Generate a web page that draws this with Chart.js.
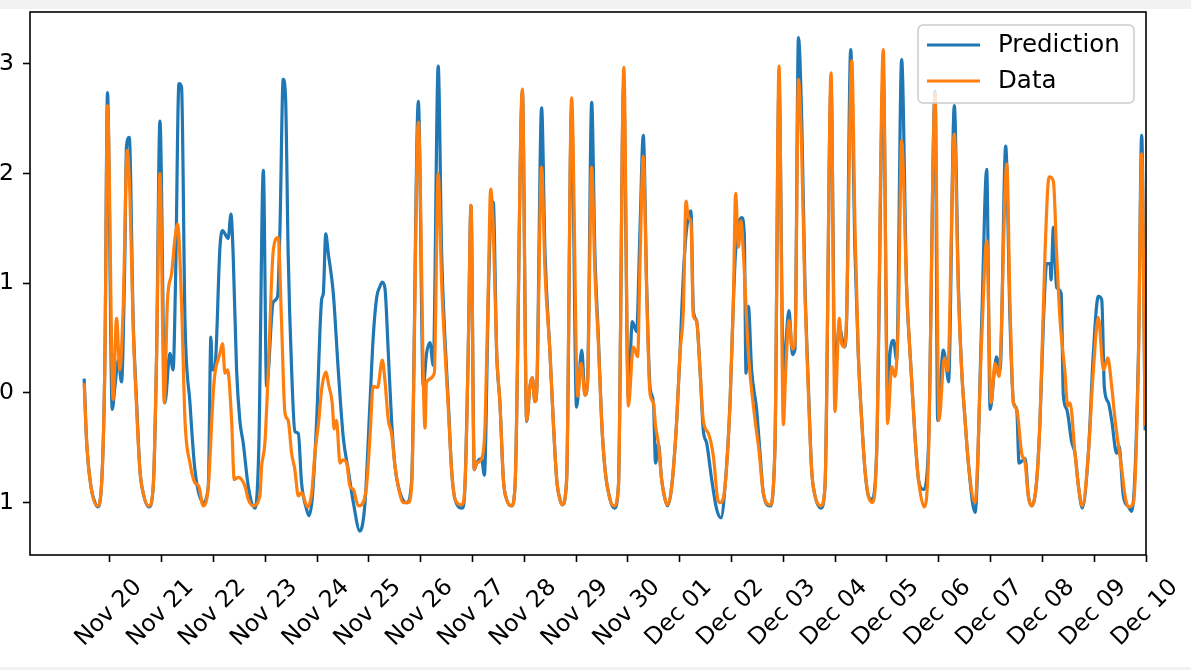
<!DOCTYPE html>
<html>
<head>
<meta charset="utf-8">
<title>Prediction vs Data</title>
<script src="https://cdn.jsdelivr.net/npm/chart.js@4.4.0/dist/chart.umd.min.js"></script>
<style>
    html, body { margin: 0; padding: 0; width: 1191px; height: 670px; overflow: hidden; background: #f2f2f2; }
    #sheet { position: absolute; left: 0; top: 9px; width: 1191px; height: 658px; background: #fff; }
    #chart { position: absolute; left: 0; top: 0; }
</style>
</head>
<body>
<div id="sheet"></div>
<canvas id="chart" width="1191" height="670"></canvas>
<script>
// hours since Nov 20 00:00
const predHours = [
    -11.9, -10.8, -8.8, -6.9, -5.7, -3.9, -2.3, -1.1, 1.1, 2.3, 3.9, 5.4, 6.9, 7.7, 9.0, 10.8, 12.4, 13.9, 15.4, 18.1,
    20.1, 21.6, 23.2, 25.5, 27.8, 29.3, 30.4, 32.0, 33.2, 34.8, 37.1, 39.4, 43.2, 45.6, 46.8, 47.4, 48.7, 51.0, 52.2, 54.8,
    56.1, 57.1, 58.7, 60.2, 61.8, 64.1, 67.2, 69.0, 71.1, 72.6, 75.7, 77.7, 78.8, 80.3, 81.4, 82.6, 84.2, 85.7, 87.3, 88.8,
    91.1, 92.2, 93.8, 95.8, 98.1, 98.9, 100.0, 101.2, 103.5, 105.8, 108.1, 110.4, 112.8, 115.8, 118.2, 120.5, 122.0, 123.6, 125.1, 126.2,
    127.4, 129.0, 130.5, 132.1, 134.4, 137.5, 139.8, 142.9, 145.2, 146.7, 148.3, 149.8, 152.1, 153.7, 155.2, 156.8, 158.3, 159.9, 163.3, 164.5,
    166.0, 167.3, 168.8, 169.9, 172.2, 173.5, 175.3, 176.4, 177.6, 179.2, 180.7, 182.3, 183.8, 186.1, 187.7, 191.1, 193.1, 194.6, 195.7, 196.9,
    197.7, 200.0, 201.6, 203.9, 205.4, 207.0, 208.5, 209.6, 211.6, 213.9, 216.2, 218.6, 220.1, 221.3, 223.2, 224.7, 226.3, 227.8, 229.4, 231.7,
    233.7, 235.6, 238.0, 240.2, 242.0, 244.0, 245.6, 247.1, 248.7, 250.2, 251.8, 252.8, 254.1, 255.6, 257.2, 258.4, 260.3, 262.6, 264.1, 265.7,
    267.2, 269.2, 270.3, 271.8, 273.4, 274.9, 276.5, 278.8, 281.1, 283.1, 285.0, 287.3, 288.8, 289.9, 292.7, 293.9, 294.7, 295.8, 297.3, 299.6,
    301.2, 302.7, 305.8, 308.1, 310.0, 312.0, 312.8, 314.6, 316.2, 317.4, 319.0, 320.5, 322.0, 323.6, 325.1, 326.7, 329.4, 331.3, 334.1, 335.9,
    337.9, 340.3, 341.3, 343.2, 345.2, 346.7, 348.3, 349.8, 351.4, 352.9, 355.2, 358.3, 360.3, 361.4, 363.0, 364.5, 366.8, 369.1, 370.7, 373.0,
    374.6, 376.9, 379.2, 382.3, 383.5, 386.1, 387.7, 388.5, 391.2, 393.1, 394.6, 396.2, 397.7, 400.8, 403.9, 406.2, 407.8, 409.8, 410.8, 412.4,
    415.0, 417.0, 418.6, 420.1, 421.2, 424.0, 425.5, 427.1, 429.4, 430.9, 432.5, 434.0, 435.6, 436.0, 437.1, 438.6, 440.7, 441.7, 443.3, 445.6,
    447.1, 448.7, 450.5, 453.3, 455.6, 457.9, 459.5, 460.7, 462.6, 464.1, 466.4, 467.5, 469.5, 471.9, 473.4, 476.5, 478.0, 479.6
];
const predValues = [
    0.13, -0.43, -0.85, -1.0, -1.04, -0.85, 0.3, 2.74, -0.15, 0.05, 0.3, 0.1, 1.2, 2.25, 2.33, 0.66, -0.09, -0.7, -0.91, -1.04,
    -0.85, 0.3, 2.48, -0.09, 0.36, 0.21, 1.0, 2.82, 2.79, 0.66, -0.09, -0.7, -1.0, -0.85, 0.51, 0.21, 0.24, 1.33, 1.48, 1.41,
    1.63, 1.27, 0.21, -0.25, -0.46, -0.85, -1.05, -0.5, 2.03, 0.06, 0.83, 0.88, 1.5, 2.86, 2.69, 1.27, 0.21, -0.35, -0.37, -0.82,
    -1.06, -1.12, -0.95, -0.25, 0.85, 0.91, 1.45, 1.27, 0.91, 0.21, -0.4, -0.7, -1.0, -1.26, -1.0, -0.09, 0.51, 0.87, 0.97, 1.01,
    0.96, 0.36, -0.25, -0.67, -0.91, -1.0, -0.8, 2.66, 0.06, 0.36, 0.46, 0.25, 2.98, 1.27, 0.51, -0.09, -0.7, -0.97, -1.05, -0.85,
    0.36, 1.71, -0.7, -0.64, -0.6, -0.75, 0.85, 1.6, 1.74, 0.36, -0.09, -0.79, -0.97, -1.03, -0.85, 2.75, -0.26, 0.06, 0.14, -0.08,
    0.0, 2.6, 1.27, 0.36, -0.25, -0.79, -0.97, -1.02, -0.79, 2.6, -0.13, 0.39, -0.02, 0.1, 2.65, 1.27, 0.51, -0.25, -0.7, -0.97,
    -1.05, -0.85, 2.8, -0.05, 0.65, 0.56, 1.5, 2.35, 0.96, 0.06, -0.09, -0.64, -0.46, -0.79, -0.97, -1.03, -0.85, -0.25, 0.36, 1.09,
    1.5, 1.66, 0.75, 0.66, 0.21, -0.34, -0.46, -0.79, -1.06, -1.14, -0.85, -0.09, 0.8, 1.3, 1.6, 1.45, 0.18, 0.79, 0.21, -0.15,
    -0.55, -0.91, -1.03, -0.5, 2.8, 0.2, 0.36, 0.75, 0.35, 0.4, 3.24, 2.5, 1.0, 0.06, -0.7, -0.94, -1.05, -0.85, 2.8, 0.2,
    0.6, 0.42, 0.66, 3.13, 1.27, 0.36, -0.25, -0.7, -0.94, -0.97, -0.55, 2.9, 0.0, 0.36, 0.48, 0.3, 3.04, 0.96, 0.36, -0.4,
    -0.79, -0.88, -0.5, 2.75, -0.25, 0.39, 0.21, 0.1, 2.62, 0.96, 0.21, -0.25, -0.64, -1.09, 0.66, 2.04, -0.15, 0.21, 0.33, 0.21,
    2.25, 0.66, -0.09, -0.15, -0.64, -0.6, -0.94, -1.03, -0.79, -0.25, 0.66, 1.18, 1.18, 1.03, 1.51, 0.96, 0.91, -0.02, -0.15, -0.45,
    -0.55, -0.85, -1.05, -0.55, 0.36, 0.88, 0.85, 0.05, -0.09, -0.25, -0.55, -0.48, -0.94, -1.04, -1.08, 0.36, 2.35, -0.34
];

const dataHours = [
    -11.9, -10.8, -8.8, -5.7, -3.9, -2.3, -1.1, 1.5, 3.1, 4.6, 6.2, 8.0, 9.3, 10.8, 12.4, 13.9, 15.4, 18.1, 20.1, 21.6,
    23.2, 25.2, 26.7, 28.6, 30.1, 31.4, 33.2, 34.8, 37.1, 39.4, 41.2, 43.2, 45.6, 47.9, 48.7, 51.0, 52.2, 53.3, 54.5, 56.4,
    57.6, 59.5, 62.6, 64.1, 66.4, 69.5, 70.3, 71.8, 73.4, 75.7, 78.0, 79.5, 81.1, 82.6, 84.2, 85.7, 87.3, 88.8, 91.6, 93.5,
    95.0, 96.8, 98.1, 100.0, 101.5, 103.0, 103.9, 105.0, 106.6, 108.1, 109.7, 111.2, 112.8, 115.1, 116.6, 118.9, 120.5, 122.0, 124.0, 126.2,
    127.4, 129.0, 130.5, 132.1, 133.6, 135.9, 138.2, 139.8, 142.9, 146.0, 146.7, 150.3, 152.1, 153.7, 155.2, 156.8, 158.3, 159.9, 163.0, 164.5,
    166.0, 167.3, 168.8, 169.9, 172.2, 173.8, 175.3, 176.4, 177.6, 179.2, 180.7, 182.3, 183.8, 186.1, 187.7, 191.1, 193.1, 194.6, 195.7, 196.9,
    197.7, 200.0, 201.6, 203.9, 205.4, 207.0, 208.5, 209.6, 211.6, 213.9, 216.7, 218.3, 220.1, 221.3, 223.2, 224.7, 226.3, 227.8, 229.4, 231.7,
    233.7, 235.6, 238.1, 240.2, 242.5, 244.5, 245.6, 247.1, 248.7, 250.2, 251.8, 252.8, 254.1, 255.6, 257.2, 258.4, 260.3, 262.6, 264.1, 265.7,
    266.9, 268.0, 269.2, 270.3, 271.8, 273.4, 274.9, 277.3, 279.6, 281.6, 282.7, 285.0, 287.3, 288.8, 289.9, 291.2, 292.4, 293.5, 295.8, 298.9,
    300.7, 302.7, 305.8, 308.1, 310.0, 312.0, 313.1, 314.6, 316.2, 317.4, 319.0, 320.5, 322.0, 323.6, 325.1, 326.7, 329.4, 331.3, 334.1, 335.9,
    337.9, 339.0, 340.3, 341.3, 343.7, 345.2, 346.7, 348.3, 349.8, 351.4, 353.2, 355.2, 358.3, 360.3, 362.2, 363.7, 365.3, 366.8, 369.1, 370.7,
    373.0, 374.6, 377.3, 379.2, 382.3, 384.1, 386.6, 388.1, 391.2, 393.1, 394.6, 396.2, 397.7, 400.8, 403.9, 406.2, 408.2, 410.1, 411.9, 415.5,
    417.0, 418.6, 420.1, 422.4, 424.0, 425.5, 427.1, 429.4, 430.9, 433.2, 435.1, 437.1, 438.6, 440.2, 442.5, 443.7, 444.8, 447.1, 448.7, 450.5,
    453.3, 455.6, 457.9, 460.3, 462.3, 464.1, 465.7, 468.8, 470.3, 471.9, 474.2, 476.5, 478.0, 479.6
];
const dataValues = [
    0.09, -0.43, -0.85, -1.03, -0.85, 0.3, 2.62, -0.06, 0.68, 0.21, 0.8, 2.21, 1.8, 0.6, -0.15, -0.7, -0.91, -1.03, -0.85, 0.3,
    2.0, -0.09, 0.85, 1.09, 1.4, 1.54, 0.82, -0.25, -0.64, -0.82, -0.85, -1.03, -0.85, 0.0, 0.18, 0.36, 0.45, 0.18, 0.21, -0.25,
    -0.79, -0.77, -0.85, -0.97, -1.03, -0.94, -0.67, -0.46, 0.21, 1.3, 1.42, 0.66, -0.18, -0.25, -0.55, -0.7, -0.94, -0.91, -1.04, -0.91,
    -0.55, -0.25, 0.03, 0.19, 0.06, -0.09, -0.33, -0.25, -0.64, -0.61, -0.64, -0.85, -0.88, -1.03, -1.02, -0.85, -0.4, 0.06, 0.05, 0.3,
    0.12, -0.25, -0.37, -0.67, -0.85, -1.0, -1.0, -0.85, 2.47, -0.32, 0.1, 0.18, 2.0, 1.0, 0.4, -0.15, -0.7, -0.97, -1.02, -0.85,
    0.36, 1.71, -0.7, -0.64, -0.6, -0.3, 0.96, 1.86, 1.5, 0.36, -0.09, -0.79, -0.97, -1.03, -0.85, 2.77, -0.25, 0.06, 0.14, -0.08,
    0.0, 2.06, 1.1, 0.36, -0.25, -0.79, -0.97, -1.02, -0.79, 2.69, -0.03, 0.27, -0.02, 0.1, 2.06, 1.1, 0.45, -0.25, -0.7, -0.97,
    -1.03, -0.85, 2.97, -0.12, 0.42, 0.33, 1.2, 2.16, 0.9, 0.0, -0.09, -0.3, -0.46, -0.79, -0.97, -1.02, -0.85, -0.25, 0.36, 0.77,
    1.75, 1.6, 1.55, 0.7, 0.66, 0.21, -0.25, -0.37, -0.58, -0.97, -1.0, -0.85, -0.09, 0.8, 1.82, 1.33, 1.57, 1.27, 0.36, -0.25,
    -0.52, -0.91, -1.02, -0.5, 2.98, -0.29, 0.2, 0.66, 0.4, 0.45, 2.86, 2.2, 0.9, 0.0, -0.7, -0.94, -1.03, -0.85, 2.92, -0.17,
    0.68, 0.45, 0.42, 0.7, 3.03, 1.5, 0.36, -0.25, -0.7, -0.94, -1.0, -0.55, 3.13, -0.28, 0.24, 0.15, 0.7, 2.3, 0.96, 0.36,
    -0.4, -0.79, -1.04, -0.6, 2.72, -0.25, 0.32, 0.2, 2.36, 0.9, 0.21, -0.25, -0.64, -1.0, 0.5, 1.39, -0.09, 0.27, 0.15, 2.09,
    0.8, -0.09, -0.15, -0.55, -0.64, -0.94, -1.03, -0.79, -0.25, 1.27, 1.97, 1.93, 1.27, 0.66, 0.18, -0.12, -0.09, -0.55, -0.85, -1.03,
    -0.55, 0.2, 0.69, 0.21, 0.32, 0.06, -0.25, -0.7, -0.94, -1.04, -1.0, 0.3, 2.18, -0.3
];

const dayLabels = ['Nov 20', 'Nov 21', 'Nov 22', 'Nov 23', 'Nov 24', 'Nov 25', 'Nov 26', 'Nov 27', 'Nov 28', 'Nov 29', 'Nov 30',
    'Dec 01', 'Dec 02', 'Dec 03', 'Dec 04', 'Dec 05', 'Dec 06', 'Dec 07', 'Dec 08', 'Dec 09', 'Dec 10'];
const yTicks = [-1, 0, 1, 2, 3];
const yTickLabels = ['\u22121', '0', '1', '2', '3'];

const FONT = '"DejaVu Sans", sans-serif';
const toPoints = (xs, ys) => xs.map((x, i) => ({ x: x, y: ys[i] }));

// matplotlib-like frame, rotated date labels and an inside legend
const axesDecor = {
    id: 'axesDecor',
    afterDraw(chart) {
        const ctx = chart.ctx;
        const area = chart.chartArea;
        const xs = chart.scales.x;

        ctx.save();
        ctx.strokeStyle = '#000';
        ctx.lineWidth = 1.6;
        ctx.strokeRect(area.left, area.top, area.right - area.left, area.bottom - area.top);

        ctx.font = '23.5px ' + FONT;
        ctx.fillStyle = '#000';
        ctx.textAlign = 'center';
        ctx.textBaseline = 'middle';
        dayLabels.forEach((lab, i) => {
            ctx.save();
            ctx.translate(xs.getPixelForValue(i * 24) - 1, area.bottom + 58);
            ctx.rotate(-Math.PI / 4);
            ctx.fillText(lab, 0, 0);
            ctx.restore();
        });

        // legend box
        const bx = area.right - 228, by = area.top + 13, bw = 216, bh = 78;
        ctx.beginPath();
        ctx.roundRect(bx, by, bw, bh, 5);
        ctx.fillStyle = 'rgba(255,255,255,0.8)';
        ctx.fill();
        ctx.strokeStyle = '#cccccc';
        ctx.lineWidth = 1.5;
        ctx.stroke();

        ctx.font = '24.5px ' + FONT;
        ctx.textAlign = 'left';
        chart.data.datasets.forEach((ds, i) => {
            const y = by + 20 + i * 36;
            ctx.beginPath();
            ctx.moveTo(bx + 9, y);
            ctx.lineTo(bx + 62, y);
            ctx.strokeStyle = ds.borderColor;
            ctx.lineWidth = 3.2;
            ctx.stroke();
            ctx.fillStyle = '#000';
            ctx.fillText(ds.label, bx + 80, y + 1);
        });
        ctx.restore();
    }
};

new Chart(document.getElementById('chart').getContext('2d'), {
    type: 'line',
    data: {
        datasets: [
            {
                label: 'Prediction',
                data: toPoints(predHours, predValues),
                borderColor: '#1f77b4',
                borderWidth: 3.2,
                pointRadius: 0,
                cubicInterpolationMode: 'monotone',
                order: 1
            },
            {
                label: 'Data',
                data: toPoints(dataHours, dataValues),
                borderColor: '#ff7f0e',
                borderWidth: 3.2,
                pointRadius: 0,
                cubicInterpolationMode: 'monotone',
                order: 0
            }
        ]
    },
    options: {
        responsive: false,
        animation: false,
        layout: { padding: { top: 12, right: 45, left: 0, bottom: 0 } },
        plugins: { legend: { display: false }, tooltip: { enabled: false } },
        scales: {
            x: {
                type: 'linear',
                min: -37,
                max: 480,
                afterBuildTicks: s => { s.ticks = dayLabels.map((_, i) => ({ value: i * 24 })); },
                afterFit: s => { s.height = 115; s.paddingLeft = 0; s.paddingRight = 0; },
                grid: { drawOnChartArea: false, drawTicks: true, tickLength: 7, tickWidth: 1.6, tickColor: '#000' },
                border: { display: false },
                ticks: { display: false }
            },
            y: {
                min: -1.478,
                max: 3.474,
                afterBuildTicks: s => { s.ticks = yTicks.map(v => ({ value: v })); },
                afterFit: s => { s.width = 30; s.paddingTop = 0; s.paddingBottom = 0; },
                grid: { drawOnChartArea: false, drawTicks: true, tickLength: 7, tickWidth: 1.6, tickColor: '#000' },
                border: { display: false },
                ticks: {
                    padding: 9,
                    color: '#000',
                    font: { family: FONT, size: 23.5 },
                    callback: (v, i) => yTickLabels[i]
                }
            }
        }
    },
    plugins: [axesDecor]
});
</script>
</body>
</html>
